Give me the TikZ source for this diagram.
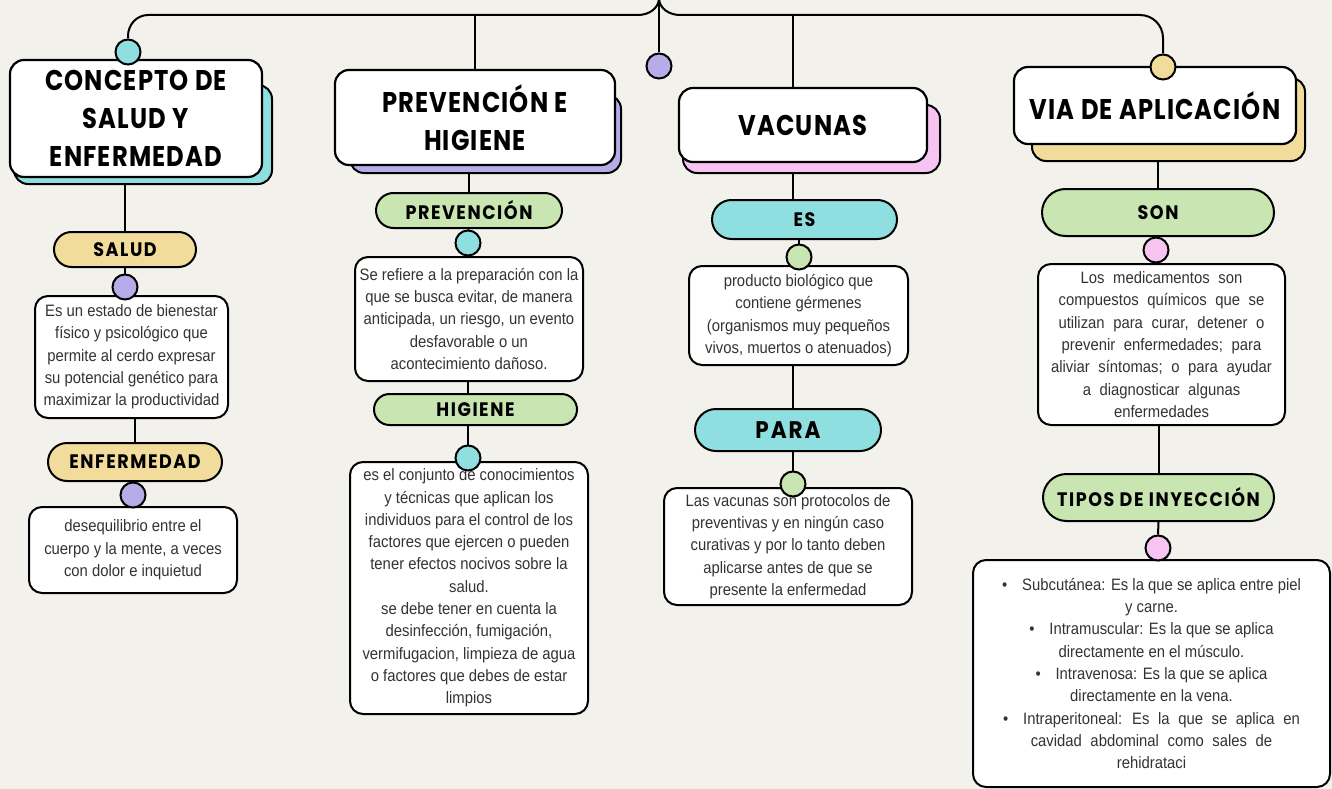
\documentclass[tikz,border=0pt]{standalone}
\usepackage{fontspec}
\setmainfont{Liberation Sans}[FakeStretch=0.9]
\newfontfamily\headfont{Poppins}[FakeStretch=0.85,LetterSpace=4]
\newfontfamily\pillfont{Poppins}[FakeStretch=0.9,LetterSpace=8]
\newcommand\widespaces{\spaceskip=0.52em plus 0.1em\relax}
\usetikzlibrary{shapes.misc}
\definecolor{bg}{HTML}{F2F1EC}
\definecolor{ccyan}{HTML}{8FDFE0}
\definecolor{cpurple}{HTML}{B7ACE8}
\definecolor{cpink}{HTML}{F7C4F2}
\definecolor{cgold}{HTML}{F1DC9C}
\definecolor{cgreen}{HTML}{C9E5B2}
\definecolor{txt}{HTML}{333333}
\tikzset{
  conn/.style={draw=black, line width=2pt},
  headbox/.style={draw=black, line width=2.2pt, fill=white, rounded corners=14pt, align=center, inner sep=0pt,
    font=\headfont\bfseries\fontsize{28.5}{38}\selectfont},
  shadowbox/.style={draw=black, line width=2pt, rounded corners=14pt, inner sep=0pt},
  pill/.style={rounded rectangle, draw=black, line width=2pt, inner sep=0pt,
    font=\pillfont\bfseries\fontsize{19.5}{22}\selectfont},
  textbox/.style={draw=black, line width=2pt, fill=white, rounded corners=13pt, align=center, inner sep=0pt,
    text=txt, font=\fontsize{16.5}{22.3}\selectfont},
  widesp/.style={font={\fontsize{16.5}{22.3}\selectfont\widespaces}},
  dot/.style={circle, draw=black, line width=2pt, minimum size=25pt, inner sep=0pt},
}
\begin{document}
\begin{tikzpicture}[x=1pt,y=-1pt]
\useasboundingbox (0,0) rectangle (1332,789);
\fill[bg] (0,0) rectangle (1332,789);

% ---- heading shadows
\node[shadowbox, fill=ccyan,   minimum width=258pt, minimum height=99pt] (h1s) at (143,134.5) {};
\node[shadowbox, fill=cpurple, minimum width=271pt, minimum height=78pt] (h2s) at (485.5,134) {};
\node[shadowbox, fill=cpink,   minimum width=257pt, minimum height=68pt] (h3s) at (811.5,139) {};
\node[shadowbox, fill=cgold,   minimum width=273pt, minimum height=83pt] (h4s) at (1168.5,119.5) {};

% ---- heading boxes
\node[headbox, minimum width=252pt, minimum height=117pt] (h1) at (136,118.5) {CONCEPTO DE\\SALUD Y\\ENFERMEDAD};
\node[headbox, minimum width=280pt, minimum height=95pt] (h2) at (475,117.5) {PREVENCIÓN E\\HIGIENE};
\node[headbox, minimum width=248pt, minimum height=74pt] (h3) at (803,125) {VACUNAS};
\node[headbox, minimum width=282pt, minimum height=77pt] (h4) at (1155,105.5) {VIA DE APLICACIÓN};

% ---- column 1
\node[pill, fill=cgold, minimum width=142pt, minimum height=35pt] (salud) at (125,249.5) {SALUD};
\node[textbox, minimum width=193pt, minimum height=122pt] (t1a) at (131.5,357)
  {Es un estado de bienestar\\físico y psicológico que\\permite al cerdo expresar\\su potencial genético para\\maximizar la productividad};
\node[pill, fill=cgold, minimum width=174pt, minimum height=38pt] (enf) at (135,462) {ENFERMEDAD};
\node[textbox, minimum width=208pt, minimum height=86pt] (t1b) at (133,550)
  {desequilibrio entre el\\cuerpo y la mente, a veces\\con dolor e inquietud};

% ---- column 2
\node[pill, fill=cgreen, minimum width=186pt, minimum height=35pt] (prev) at (469,210.5) {PREVENCIÓN};
\node[textbox, minimum width=228pt, minimum height=124pt] (t2a) at (469,319)
  {Se refiere a la preparación con la\\que se busca evitar, de manera\\anticipada, un riesgo, un evento\\desfavorable o un\\acontecimiento dañoso.};
\node[pill, fill=cgreen, minimum width=203pt, minimum height=31pt] (hig) at (475.5,409.5) {HIGIENE};
\node[textbox, minimum width=238pt, minimum height=252pt] (t2b) at (469,588)
  {es el conjunto de conocimientos\\y técnicas que aplican los\\individuos para el control de los\\factores que ejercen o pueden\\tener efectos nocivos sobre la\\salud.\\se debe tener en cuenta la\\desinfección, fumigación,\\vermifugacion, limpieza de agua\\o factores que debes de estar\\limpios};

% ---- column 3
\node[pill, fill=ccyan, minimum width=185pt, minimum height=39pt] (es) at (804.5,219.5) {ES};
\node[textbox, minimum width=219pt, minimum height=99pt] (t3a) at (798.5,315.5)
  {producto biológico que\\contiene gérmenes\\(organismos muy pequeños\\vivos, muertos o atenuados)};
\node[pill, fill=ccyan, minimum width=186pt, minimum height=42pt, font=\pillfont\bfseries\fontsize{24}{26}\selectfont] (para) at (788,430) {PARA};
\node[textbox, minimum width=248pt, minimum height=117pt] (t3b) at (788,546.5)
  {Las vacunas son protocolos de\\preventivas y en ningún caso\\curativas y por lo tanto deben\\aplicarse antes de que se\\presente la enfermedad};

% ---- column 4
\node[pill, fill=cgreen, minimum width=232pt, minimum height=47pt] (son) at (1158,212.5) {SON};
\node[textbox, widesp, minimum width=247pt, minimum height=161pt] (t4a) at (1161.5,344.5)
  {Los medicamentos son\\compuestos químicos que se\\utilizan para curar, detener o\\prevenir enfermedades; para\\aliviar síntomas; o para ayudar\\a diagnosticar algunas\\enfermedades};
\node[pill, fill=cgreen, minimum width=231pt, minimum height=47pt] (tipos) at (1158.5,497.5) {TIPOS DE INYECCIÓN};
\node[textbox, minimum width=357pt, minimum height=227pt] (t4b) at (1151.5,673.5)
  {\textbullet\hspace{0.9em}Subcutánea: Es la que se aplica entre piel\\y carne.\\\textbullet\hspace{0.9em}Intramuscular: Es la que se aplica\\directamente en el músculo.\\\textbullet\hspace{0.9em}Intravenosa: Es la que se aplica\\directamente en la vena.\\{\widespaces\textbullet\hspace{0.9em}Intraperitoneal: Es la que se aplica en}\\{\widespaces cavidad abdominal como sales de}\\rehidrataci};

% ---- dots
\node[dot, fill=ccyan]   (c1)  at (128,52) {};
\node[dot, fill=cpurple] (c0)  at (659,66) {};
\node[dot, fill=cgold]   (c4)  at (1163,67) {};
\node[dot, fill=cpurple] (d1a) at (125,287) {};
\node[dot, fill=cpurple] (d1b) at (133,495) {};
\node[dot, fill=ccyan]   (d2a) at (468,243) {};
\node[dot, fill=ccyan]   (d2b) at (468,458) {};
\node[dot, fill=cgreen]  (d3a) at (799,257) {};
\node[dot, fill=cgreen]  (d3b) at (793,484) {};
\node[dot, fill=cpink]   (d4a) at (1156,250) {};
\node[dot, fill=cpink]   (d4b) at (1158,548) {};

% ---- top tree
\coordinate (apex) at (659,-2);
\coordinate (j2) at (475,15);
\coordinate (j3) at (793,15);
\draw[conn] (c1.north) -- (128,36) to[out=90,in=180] (148,15) -- (j2) -- (638,15) to[out=0,in=-90] (apex)
  to[out=-90,in=180] (680,15) -- (j3) -- (1140,15) to[out=0,in=90] (1163,38) -- (c4.north);
\draw[conn] (apex) -- (c0.north);
\draw[conn] (j2) -- (h2.north);
\draw[conn] (j3) -- (j3 |- h3.north);

% ---- vertical connectors
\draw[conn] (salud.north) -- (salud.north |- h1s.south);
\draw[conn] (salud.south) -- (d1a.north);
\draw[conn] (enf.north) -- (enf.north |- t1a.south);
\draw[conn] (enf.south) -- (d1b.north);
\draw[conn] (prev.north) -- (prev.north |- h2s.south);
\draw[conn] (prev.south) -- (d2a.north);
\draw[conn] (d2b.north |- hig.north) -- (d2b.north |- t2a.south);
\draw[conn] (d2b.north |- hig.south) -- (d2b.north);
\draw[conn] (d3b.north |- h3s.south) -- (d3b.north |- es.north);
\draw[conn] (d3a.north |- es.south) -- (d3a.north);
\draw[conn] (d3b.north |- para.north) -- (d3b.north |- t3a.south);
\draw[conn] (d3b.north |- para.south) -- (d3b.north);
\draw[conn] (son.north) -- (son.north |- h4s.south);
\draw[conn] (son.south) -- (d4a.north);
\draw[conn] (tipos.north) -- (tipos.north |- t4a.south);
\draw[conn] (tipos.south) -- (d4b.north);
\end{tikzpicture}
\end{document}
